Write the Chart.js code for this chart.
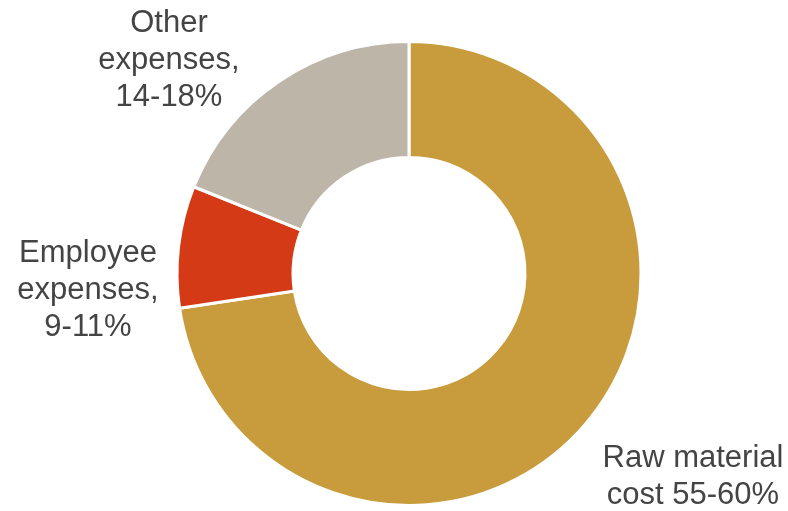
<!DOCTYPE html>
<html>
<head>
<meta charset="utf-8">
<script src="https://cdn.jsdelivr.net/npm/chart.js@4/dist/chart.umd.min.js"></script>
<style>
  html, body { margin: 0; padding: 0; background: #fff; }
  #wrap { width: 788px; height: 511px; }
</style>
</head>
<body>
<div id="wrap"><canvas id="costChart" width="788" height="511"></canvas></div>
<script>
/* Cost structure doughnut */

const categories = ['Raw material cost', 'Employee expenses', 'Other expenses'];
const shares     = [72.6, 8.5, 18.9];
const labelLines = [
  ['Raw material', 'cost 55-60%'],
  ['Employee', 'expenses,', '9-11%'],
  ['Other', 'expenses,', '14-18%']
];
const colors = ['#C89B3C', '#D53A16', '#BEB5A9'];

// outside labels, one text block per slice (x = centre of block, y = first baseline)
const labelAnchors = [
  { x: 693, y: 467 },
  { x: 88,  y: 262 },
  { x: 169, y: 32 }
];

const outsideLabels = {
  id: 'outsideLabels',
  afterDraw(chart, args, opts) {
    const ctx = chart.ctx;
    ctx.save();
    ctx.font = `${opts.size}px "Liberation Sans", Arial, sans-serif`;
    ctx.fillStyle = opts.color;
    ctx.textAlign = 'center';
    ctx.textBaseline = 'alphabetic';
    labelLines.forEach((lines, i) => {
      const a = labelAnchors[i];
      lines.forEach((t, j) => ctx.fillText(t, a.x, a.y + j * opts.lineHeight));
    });
    ctx.restore();
  }
};

new Chart(document.getElementById('costChart'), {
  type: 'doughnut',
  data: {
    labels: categories,
    datasets: [{
      data: shares,
      backgroundColor: colors,
      borderColor: '#ffffff',
      borderWidth: 3,
      hoverBorderWidth: 3,
      hoverOffset: 0
    }]
  },
  options: {
    responsive: false,
    animation: false,
    cutout: '50%',
    layout: { padding: { top: 40, bottom: 4, left: 30, right: 0 } },
    plugins: {
      legend: { display: false },
      tooltip: { enabled: false },
      outsideLabels: { size: 31, lineHeight: 37, color: '#444444' }
    }
  },
  plugins: [outsideLabels]
});
</script>
</body>
</html>
